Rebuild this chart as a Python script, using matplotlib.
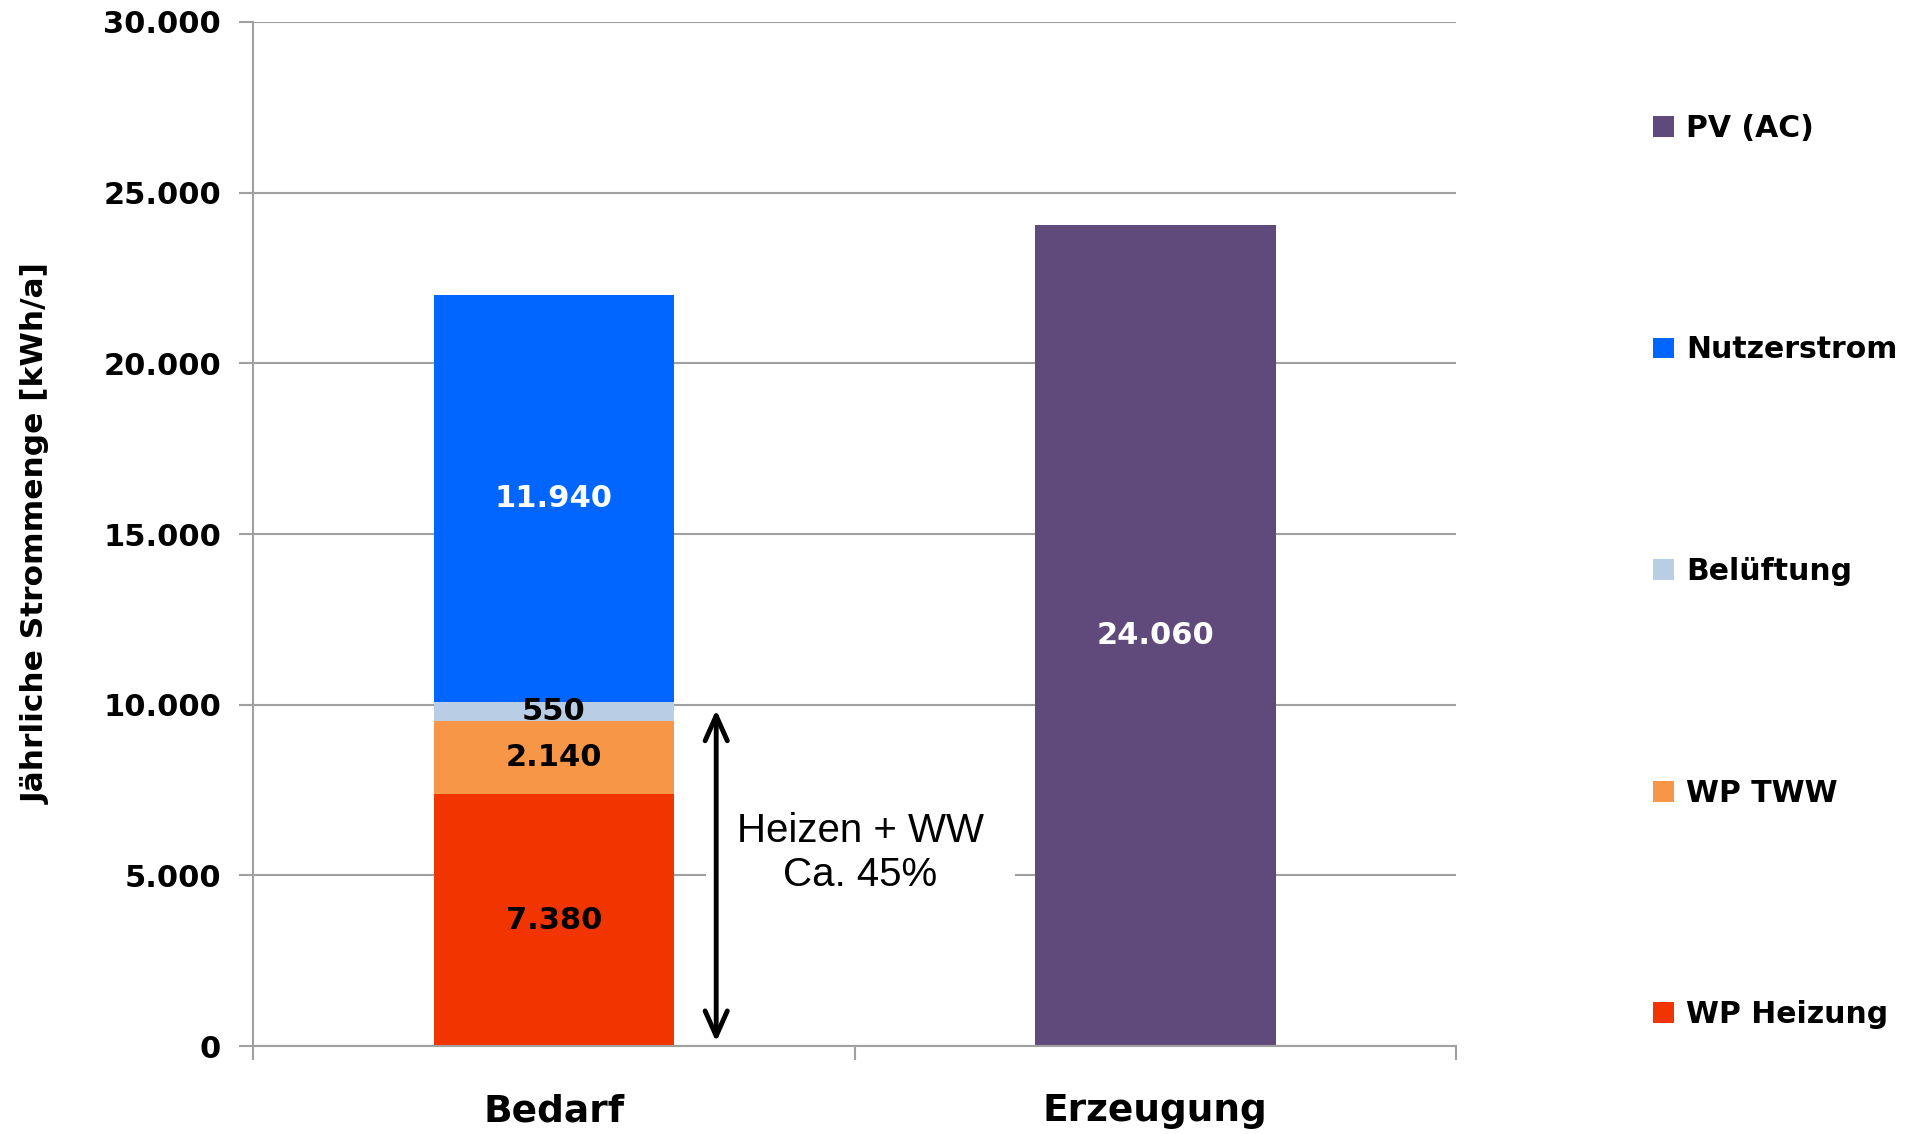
import matplotlib.pyplot as plt
import numpy as np
from matplotlib.patches import Patch, Rectangle
from matplotlib.ticker import FuncFormatter

plt.rcParams.update({
    "font.family": "DejaVu Sans",
    "font.weight": "bold",
    "axes.spines.top": False,
    "axes.spines.right": False,
})

CATEGORIES = ["Bedarf", "Erzeugung"]

# annual electricity per component (kWh/a), one value per category
SERIES = ["WP Heizung", "WP TWW", "Belüftung", "Nutzerstrom", "PV (AC)"]
wp_heizung = [7380, 0]
wp_tww = [2140, 0]
belueftung = [550, 0]
nutzerstrom = [11940, 0]
pv_ac = [0, 24060]
VALUES = [wp_heizung, wp_tww, belueftung, nutzerstrom, pv_ac]

COLORS = ["#F23500", "#F79646", "#B9CDE5", "#0066FF", "#604A7B"]
LABEL_COLORS = ["black", "black", "black", "white", "white"]

YTICKS = [0, 5000, 10000, 15000, 20000, 25000, 30000]

# bracket on the demand bar: heating + hot water share
BRACKET_RANGE = (120, 9850)
BRACKET_TEXT = "Heizen + WW\nCa. 45%"

GRID = "#A0A0A0"


def dotted(v, _pos=None):
    return f"{v:,.0f}".replace(",", ".")


fig = plt.figure(figsize=(19.1, 11.34), dpi=100)
ax = fig.add_axes([0.1325, 0.0776, 0.6298, 0.903])

x = np.arange(len(CATEGORIES))
bottom = np.zeros(len(CATEGORIES))
for name, vals, col, lc in zip(SERIES, VALUES, COLORS, LABEL_COLORS):
    vals = np.array(vals, dtype=float)
    bars = ax.bar(x, vals, 0.40, bottom=bottom, color=col, label=name, zorder=2)
    labels = [dotted(v) if v > 0 else "" for v in vals]
    ax.bar_label(bars, labels=labels, label_type="center", color=lc,
                 fontsize=22, fontweight="bold")
    bottom += vals

ax.set_xlim(-0.5, 1.5)
ax.set_ylim(0, 30000)
ax.set_yticks(YTICKS)
ax.yaxis.set_major_formatter(FuncFormatter(dotted))
ax.set_axisbelow(True)
ax.grid(axis="y", color=GRID, lw=1.5)

ax.set_xticks(x)
ax.set_xticklabels(CATEGORIES, fontsize=27, fontweight="bold")
ax.set_xticks([-0.5, 0.5, 1.5], minor=True)
ax.tick_params(axis="x", which="major", length=0, pad=34)
ax.tick_params(axis="x", which="minor", length=10, width=1.5, color=GRID)
ax.tick_params(axis="y", length=10, width=1.5, color=GRID, labelsize=22, pad=13)
for side in ("left", "bottom"):
    ax.spines[side].set_color(GRID)
    ax.spines[side].set_linewidth(1.5)

ax.set_ylabel("Jährliche Strommenge [kWh/a]", fontsize=22.5, fontweight="bold",
              labelpad=38)

# white patch behind the bracket so the gridline breaks around it
ax.add_patch(Rectangle((0.253, 200), 0.514, 9400, facecolor="white",
                       edgecolor="none", zorder=1.2))
ax.annotate("", xy=(0.27, BRACKET_RANGE[1]), xytext=(0.27, BRACKET_RANGE[0]),
            arrowprops=dict(arrowstyle="<->, head_length=0.45, head_width=0.2",
                            lw=3.5, color="black", mutation_scale=40,
                            shrinkA=0, shrinkB=0), zorder=3)
ax.text(0.51, 5650, BRACKET_TEXT, ha="center", va="center", fontsize=29,
        fontweight="normal", family="Liberation Sans", linespacing=1.2,
        zorder=3)

handles = [Patch(facecolor=c, edgecolor="none") for c in COLORS][::-1]
fig.legend(handles, SERIES[::-1], loc="center left",
           bbox_to_anchor=(0.8654, 0.496), frameon=False, fontsize=21.5,
           labelspacing=6.45, handlelength=0.7, handleheight=0.7,
           handletextpad=0.4, borderpad=0, borderaxespad=0)

fig.savefig("out.png", dpi=100)
